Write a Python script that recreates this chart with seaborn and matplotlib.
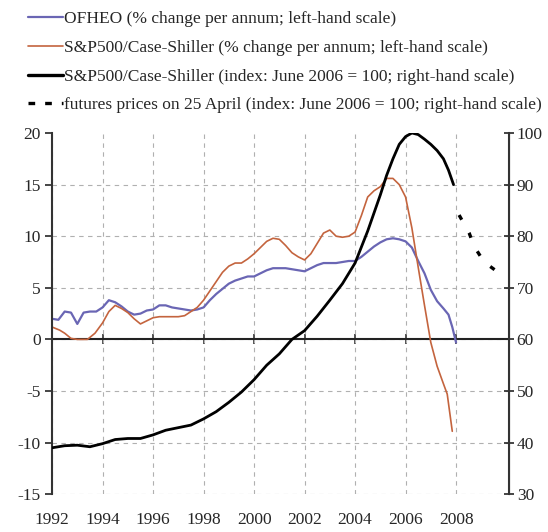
import pandas as pd
import matplotlib.pyplot as plt
import seaborn as sns
from matplotlib.lines import Line2D

sns.set_style("white")
plt.rcParams['font.family'] = ['Liberation Serif', 'DejaVu Serif']
plt.rcParams['axes.unicode_minus'] = False

# OFHEO house prices, % change per annum (left scale)
ofheo_x = [1992.0, 1992.25, 1992.5, 1992.75, 1993.0, 1993.25, 1993.5, 1993.75, 1994.0, 1994.25,
           1994.5, 1994.75, 1995.0, 1995.25, 1995.5, 1995.75, 1996.0, 1996.25, 1996.5, 1996.75,
           1997.0, 1997.25, 1997.5, 1997.75, 1998.0, 1998.25, 1998.5, 1998.75, 1999.0, 1999.25,
           1999.5, 1999.75, 2000.0, 2000.25, 2000.5, 2000.75, 2001.0, 2001.25, 2001.5, 2001.75,
           2002.0, 2002.25, 2002.5, 2002.75, 2003.0, 2003.25, 2003.5, 2003.75, 2004.0, 2004.25,
           2004.5, 2004.75, 2005.0, 2005.25, 2005.5, 2005.75, 2006.0, 2006.25, 2006.5, 2006.75,
           2007.0, 2007.25, 2007.5, 2007.7, 2007.85, 2008.0]
ofheo_y = [2.0, 1.9, 2.7, 2.6, 1.5, 2.6, 2.7, 2.7, 3.1, 3.8,
           3.6, 3.2, 2.7, 2.4, 2.5, 2.8, 2.9, 3.3, 3.3, 3.1,
           3.0, 2.9, 2.8, 2.9, 3.1, 3.8, 4.4, 4.9, 5.4, 5.7,
           5.9, 6.1, 6.1, 6.4, 6.7, 6.9, 6.9, 6.9, 6.8, 6.7,
           6.6, 6.9, 7.2, 7.4, 7.4, 7.4, 7.5, 7.6, 7.6, 8.0,
           8.5, 9.0, 9.4, 9.7, 9.8, 9.7, 9.5, 8.9, 7.6, 6.4,
           4.8, 3.7, 3.0, 2.4, 1.2, -0.3]

# S&P500/Case-Shiller, % change per annum (left scale)
cs_x = [1992.0, 1992.3, 1992.5, 1992.75, 1993.0, 1993.4, 1993.7, 1994.0, 1994.25, 1994.5,
        1994.75, 1995.0, 1995.25, 1995.5, 1995.75, 1996.0, 1996.25, 1996.5, 1996.75, 1997.0,
        1997.25, 1997.5, 1997.75, 1998.0, 1998.25, 1998.5, 1998.75, 1999.0, 1999.25, 1999.5,
        1999.75, 2000.0, 2000.25, 2000.5, 2000.75, 2001.0, 2001.25, 2001.5, 2001.75, 2002.0,
        2002.25, 2002.5, 2002.75, 2003.0, 2003.25, 2003.5, 2003.75, 2004.0, 2004.25, 2004.5,
        2004.75, 2005.0, 2005.25, 2005.5, 2005.75, 2006.0, 2006.25, 2006.5, 2006.75, 2007.0,
        2007.25, 2007.5, 2007.65, 2007.85]
cs_y = [1.2, 0.9, 0.6, 0.1, 0.0, 0.0, 0.6, 1.6, 2.7, 3.3,
        3.0, 2.6, 2.0, 1.5, 1.8, 2.1, 2.2, 2.2, 2.2, 2.2,
        2.3, 2.7, 3.1, 3.8, 4.7, 5.6, 6.5, 7.1, 7.4, 7.4,
        7.8, 8.3, 8.9, 9.5, 9.8, 9.7, 9.1, 8.4, 8.0, 7.7,
        8.3, 9.3, 10.3, 10.6, 10.0, 9.9, 10.0, 10.4, 12.0, 13.8,
        14.4, 14.8, 15.6, 15.6, 15.0, 13.8, 10.8, 7.0, 3.3, -0.3,
        -2.6, -4.3, -5.3, -8.9]

# S&P500/Case-Shiller index, June 2006 = 100 (right scale)
idx_x = [1992.0, 1992.5, 1993.0, 1993.5, 1994.0, 1994.5, 1995.0, 1995.5, 1996.0, 1996.5,
         1997.0, 1997.5, 1998.0, 1998.5, 1999.0, 1999.5, 2000.0, 2000.5, 2001.0, 2001.5,
         2002.0, 2002.5, 2003.0, 2003.5, 2004.0, 2004.5, 2005.0, 2005.25, 2005.5, 2005.75,
         2006.0, 2006.25, 2006.5, 2006.75, 2007.0, 2007.25, 2007.5, 2007.7, 2007.9]
idx_y = [39.0, 39.4, 39.5, 39.2, 39.8, 40.6, 40.8, 40.8, 41.5, 42.4,
         42.9, 43.4, 44.6, 46.0, 47.8, 49.8, 52.2, 55.0, 57.2, 60.0,
         61.7, 64.5, 67.6, 70.8, 74.8, 81.0, 88.0, 91.8, 95.0, 97.8,
         99.3, 100.0, 99.7, 98.8, 97.8, 96.6, 95.0, 92.8, 90.0]

# futures prices on 25 April (right scale)
fut_x = [2008.12, 2008.52, 2008.72, 2009.11, 2009.64]
fut_y = [84.1, 80.6, 78.0, 75.0, 73.1]

labels = ['OFHEO (% change per annum; left-hand scale)',
          'S&P500/Case-Shiller (% change per annum; left-hand scale)',
          'S&P500/Case-Shiller (index: June 2006 = 100; right-hand scale)',
          'futures prices on 25 April (index: June 2006 = 100; right-hand scale)']
colors = ['#6a66b4', '#c4643e', 'black', 'black']

ofheo_df = pd.DataFrame({'year': ofheo_x, 'value': ofheo_y})
cs_df = pd.DataFrame({'year': cs_x, 'value': cs_y})
idx_df = pd.DataFrame({'year': idx_x, 'value': idx_y})
fut_df = pd.DataFrame({'year': fut_x, 'value': fut_y})

fig = plt.figure(figsize=(5.48, 5.32), dpi=100)
ax = fig.add_axes([0.095, 0.071, 0.834, 0.679])
ax2 = ax.twinx()

sns.lineplot(data=ofheo_df, x='year', y='value', ax=ax, color=colors[0], lw=1.6)
sns.lineplot(data=cs_df, x='year', y='value', ax=ax, color=colors[1], lw=1.2)
sns.lineplot(data=idx_df, x='year', y='value', ax=ax2, color=colors[2], lw=2.0)
sns.lineplot(data=fut_df, x='year', y='value', ax=ax2, color=colors[3], lw=2.4,
             linestyle=(0, (1.6, 4.5)))

ax.set_xlim(1992, 2010.1)
ax.set_ylim(-15, 20)
ax2.set_ylim(30, 100)
ax.set_xlabel('')
ax.set_ylabel('')
ax2.set_ylabel('')
ax.set_xticks(range(1992, 2009, 2))
ax.set_yticks(range(-15, 21, 5))
ax2.set_yticks(range(30, 101, 10))

# dashed grid, none along the top edge
ax.grid(True, color='#b0b0b0', lw=0.8, linestyle=(0, (4, 4)))
ax.yaxis.get_gridlines()[-1].set_visible(False)
ax.set_axisbelow(True)

for a in (ax, ax2):
    a.spines['top'].set_visible(False)
    a.spines['bottom'].set_visible(False)
ax.spines['left'].set_color('#333333')
ax.spines['left'].set_linewidth(1.5)
ax2.spines['right'].set_color('#333333')
ax2.spines['right'].set_linewidth(1.5)
ax2.spines['left'].set_visible(False)

ax.axhline(0, color='#222222', lw=1.5, zorder=1)
zero_ax = ax.secondary_xaxis(15 / 35)
zero_ax.set_xticks(range(1992, 2009, 2))
zero_ax.tick_params(direction='inout', length=7, width=1.2, labelbottom=False, color='#333333')
zero_ax.spines['bottom'].set_visible(False)

ax.tick_params(axis='x', length=0, pad=13, labelsize=12.5)
ax.tick_params(axis='y', direction='out', length=5, width=1.2, labelsize=12.5, pad=3)
ax2.tick_params(axis='y', direction='inout', length=7, width=1.2, labelsize=12.5, pad=2)

handles = [Line2D([], [], color=colors[0], lw=1.6),
           Line2D([], [], color=colors[1], lw=1.2),
           Line2D([], [], color=colors[2], lw=2.4),
           Line2D([], [], color=colors[3], lw=2.4, linestyle=(0, (2, 3)))]
fig.legend(handles, labels, loc='upper left', bbox_to_anchor=(0.035, 0.995),
           frameon=False, fontsize=12.5, handlelength=2.0, handletextpad=0.1,
           labelspacing=0.72, borderpad=0)

fig.savefig('out.png', dpi=100)
